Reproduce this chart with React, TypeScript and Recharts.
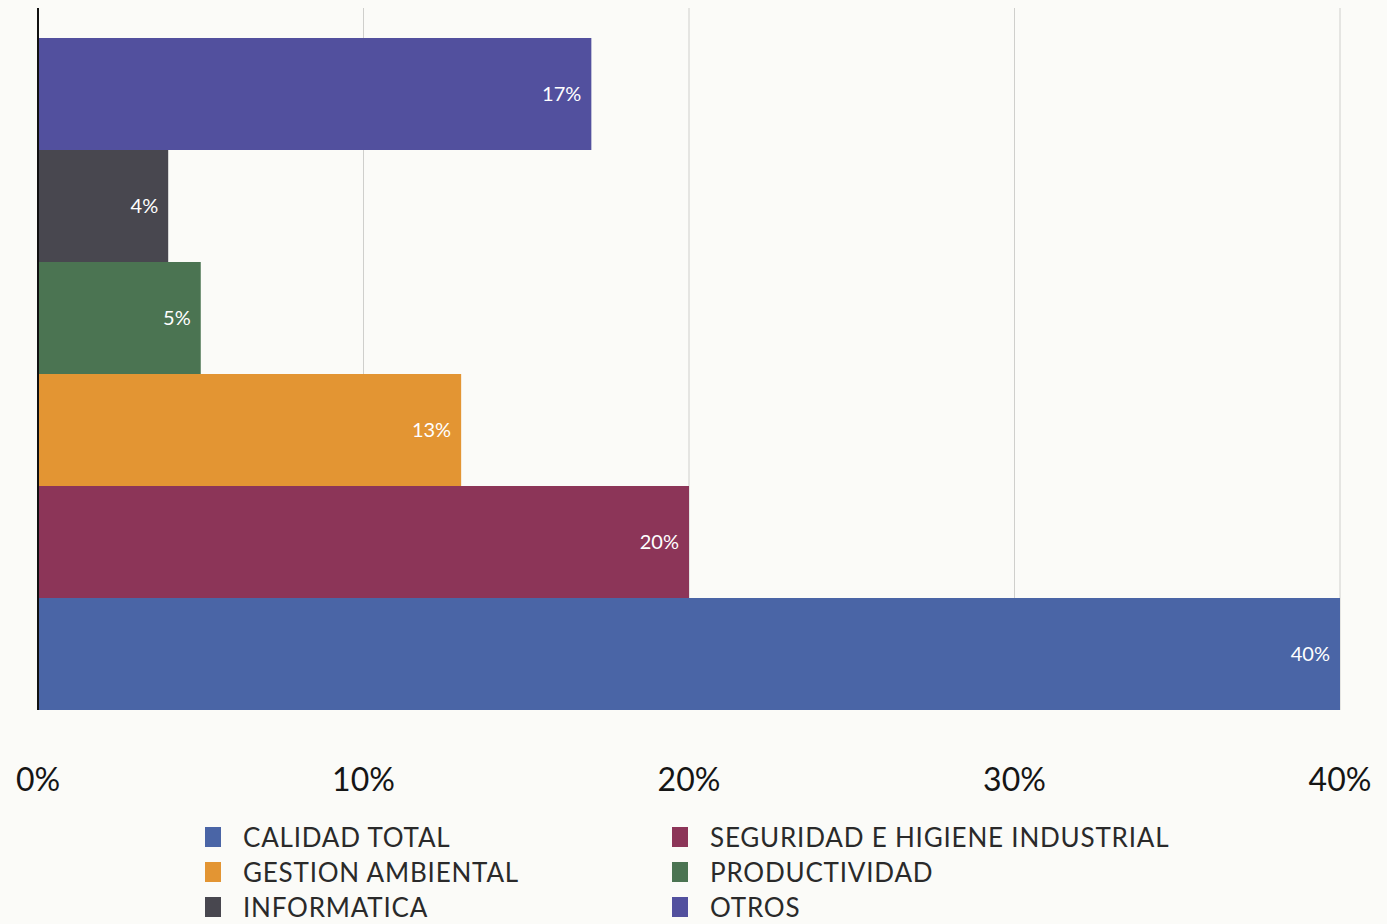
import React from 'react';
import { BarChart, Bar, XAxis, YAxis, CartesianGrid, Cell, LabelList, ReferenceLine } from 'recharts';

// top to bottom, as in the picture
const categorias = ['OTROS', 'INFORMATICA', 'PRODUCTIVIDAD', 'GESTION AMBIENTAL', 'SEGURIDAD E HIGIENE INDUSTRIAL', 'CALIDAD TOTAL'];
const valores = [17, 4, 5, 13, 20, 40];
const colores = ['#52509e', '#48474f', '#4b7452', '#e39533', '#8c3558', '#4a65a6'];
const ticksX = [0, 10, 20, 30, 40];

// legend reading order (two columns)
const ordenLeyenda = ['CALIDAD TOTAL', 'SEGURIDAD E HIGIENE INDUSTRIAL', 'GESTION AMBIENTAL', 'PRODUCTIVIDAD', 'INFORMATICA', 'OTROS'];

const FONT = 'Lato, "Open Sans", sans-serif';

const data = categorias.map((c, i) => ({ categoria: c, valor: valores[i], color: colores[i] }));

const Leyenda = () => (
  <div style={{ display: 'grid', gridTemplateColumns: '467px 560px', rowGap: 6, fontFamily: FONT }}>
    {ordenLeyenda.map(nombre => {
      const idx = categorias.indexOf(nombre);
      return (
        <div key={nombre} style={{ display: 'flex', alignItems: 'center', height: 29 }}>
          <span style={{ width: 16, height: 20, background: colores[idx], display: 'inline-block', marginRight: 22 }} />
          <span style={{ fontSize: 26, color: '#2a2a2a', letterSpacing: 0.8 }}>{nombre}</span>
        </div>
      );
    })}
  </div>
);

export default function App() {
  return (
    <div style={{ width: 1387, height: 924, background: '#fbfbf8', position: 'relative', overflow: 'hidden' }}>
      <style>{`body{margin:0}`}</style>
      <BarChart
        layout="vertical"
        width={1387}
        height={924}
        data={data}
        barCategoryGap={0}
        margin={{ top: 8, right: 47, left: 38, bottom: 114 }}
      >
        <CartesianGrid horizontal={false} stroke="#cfcfcc" strokeWidth={1} />
        <XAxis
          type="number"
          domain={[0, 40]}
          ticks={ticksX}
          tickFormatter={(v: number) => `${v}%`}
          axisLine={false}
          tickLine={false}
          tickSize={0}
          tickMargin={58}
          tick={{ fontSize: 32, fill: '#151515', fontFamily: FONT }}
          height={100}
        />
        <YAxis
          type="category"
          dataKey="categoria"
          width={0}
          tick={false}
          tickLine={false}
          axisLine={false}
          padding={{ top: 30, bottom: 0 }}
        />
        <Bar dataKey="valor" isAnimationActive={false}>
          {data.map(d => (
            <Cell key={d.categoria} fill={d.color} />
          ))}
          <LabelList
            dataKey="valor"
            position="insideRight"
            offset={10}
            formatter={(v: any) => `${v}%`}
            style={{ fill: '#ffffff', fontSize: 20, fontFamily: FONT }}
          />
        </Bar>
        <ReferenceLine x={0} stroke="#111" strokeWidth={2} />
      </BarChart>
      <div style={{ position: 'absolute', top: 822, left: 205 }}>
        <Leyenda />
      </div>
    </div>
  );
}
